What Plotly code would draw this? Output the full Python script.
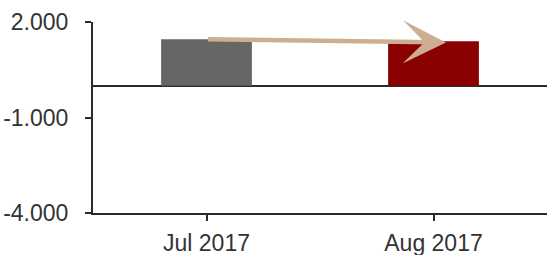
import plotly.graph_objects as go

categories = ["Jul 2017", "Aug 2017"]
values = [1460, 1395]
bar_colors = ["#666666", "#8B0000"]
y_tick_vals = [-4000, -1000, 2000]
y_tick_text = ["-4.000", "-1.000", "2.000"]
arrow_color = "#CDAE93"

font_family = "Liberation Sans, Arial, sans-serif"
axis_color = "#2b2b2b"
label_color = "#333333"

fig = go.Figure()
fig.add_trace(go.Bar(
    x=categories,
    y=values,
    marker=dict(color=bar_colors, line=dict(width=0)),
    width=0.4,
    showlegend=False,
    hoverinfo="skip",
))

# trend arrow from Jul bar top to Aug bar top
fig.add_annotation(
    x=1.055, y=values[1] - 40,
    ax=0, ay=values[0],
    xref="x", yref="y", axref="x", ayref="y",
    text="", showarrow=True,
    arrowhead=3, arrowsize=1.6, arrowwidth=4.5,
    arrowcolor=arrow_color,
)

fig.update_layout(
    width=548, height=255,
    autosize=False,
    margin=dict(l=93, r=1, t=22, b=42, autoexpand=False),
    plot_bgcolor="white",
    paper_bgcolor="white",
    font=dict(family=font_family, size=23, color=label_color),
    bargap=0.6,
)

fig.update_xaxes(
    type="category",
    automargin=False,
    showline=True, linecolor=axis_color, linewidth=2,
    ticks="outside", ticklen=6, tickwidth=2, tickcolor=axis_color,
    showgrid=False, zeroline=False,
    tickfont=dict(size=23, color=label_color, family=font_family),
    ticklabelstandoff=2,
)

fig.update_yaxes(
    range=[-4000, 2000],
    automargin=False,
    tickvals=y_tick_vals, ticktext=y_tick_text,
    showline=True, linecolor=axis_color, linewidth=2,
    ticks="outside", ticklen=6, tickwidth=2, tickcolor=axis_color,
    showgrid=False,
    zeroline=True, zerolinecolor=axis_color, zerolinewidth=2,
    tickfont=dict(size=23, color=label_color, family=font_family),
    ticklabelstandoff=12,
)

fig.write_html(
    "out.html",
    config={"displayModeBar": False},
    post_script="document.body.style.margin='0';document.body.style.padding='0';",
)
